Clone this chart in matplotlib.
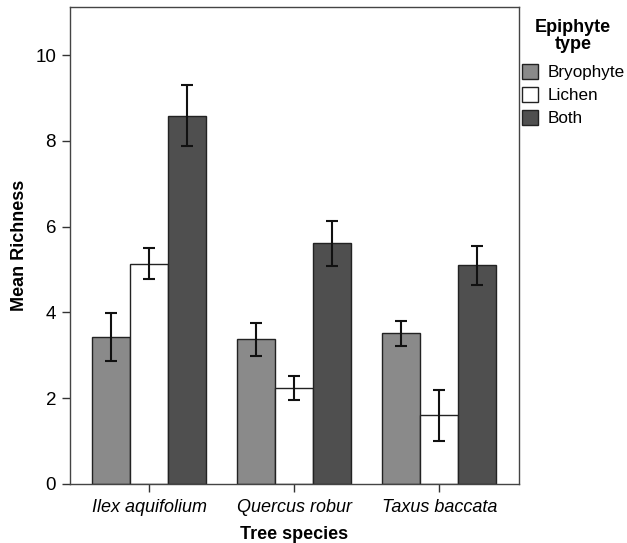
import numpy as np
import matplotlib
matplotlib.use("Agg")
import matplotlib.pyplot as plt
from matplotlib.patches import Patch

plt.rcParams['font.family'] = ['Liberation Sans', 'DejaVu Sans']

# data
species = ["Ilex aquifolium", "Quercus robur", "Taxus baccata"]
types = ["Bryophyte", "Lichen", "Both"]
bryophyte = [3.43, 3.37, 3.51]
lichen = [5.14, 2.23, 1.60]
both = [8.59, 5.61, 5.10]
bryophyte_err = [0.56, 0.38, 0.30]
lichen_err = [0.37, 0.28, 0.60]
both_err = [0.71, 0.53, 0.46]
colors = ["#8a8a8a", "#ffffff", "#4f4f4f"]

fig = plt.figure(figsize=(6.27, 5.43), dpi=100)
ax = fig.add_axes([0.1116, 0.1087, 0.7162, 0.878])

x = np.arange(len(species))
w = 0.262
series = [bryophyte, lichen, both]
errs = [bryophyte_err, lichen_err, both_err]
for i, (vals, err) in enumerate(zip(series, errs)):
    ax.bar(x + (i - 1) * w, vals, w, color=colors[i], edgecolor="#222222",
           linewidth=1.0, zorder=2)
    ax.errorbar(x + (i - 1) * w, vals, yerr=err, fmt="none", ecolor="#111111",
                elinewidth=1.5, capsize=4, capthick=1.5, zorder=3)

ax.set_xlim(-0.545, 2.55)
ax.set_ylim(0, 11.12)
ax.set_yticks([0, 2, 4, 6, 8, 10])
ax.set_xticks(x)
ax.set_xticklabels(species, fontstyle="italic", fontsize=13)
ax.tick_params(axis="y", labelsize=13.5, length=6, width=1, color="#333333", pad=4)
ax.tick_params(axis="x", length=6, width=1, color="#333333", pad=5)
for s in ax.spines.values():
    s.set_color("#444444")
    s.set_linewidth(1.0)

ax.set_xlabel("Tree species", fontweight="bold", fontsize=13, labelpad=7)
ax.set_ylabel("Mean Richness", fontweight="bold", fontsize=13, labelpad=5)

handles = [Patch(facecolor=c, edgecolor="#222222", linewidth=1.0) for c in colors]
leg = fig.legend(handles, types, title="Epiphyte\ntype", loc="upper left",
                 bbox_to_anchor=(0.821, 0.977), frameon=False, fontsize=12.3,
                 handlelength=0.98, handleheight=1.0, handletextpad=0.52,
                 labelspacing=0.38, borderaxespad=0)
leg.get_title().set_fontweight("bold")
leg.get_title().set_fontsize(13)
leg.get_title().set_multialignment("center")
leg.get_title().set_linespacing(1.0)
# a bit more room between the title and the entries
leg._legend_box.sep = 7.6

fig.savefig("out.png", dpi=100)
